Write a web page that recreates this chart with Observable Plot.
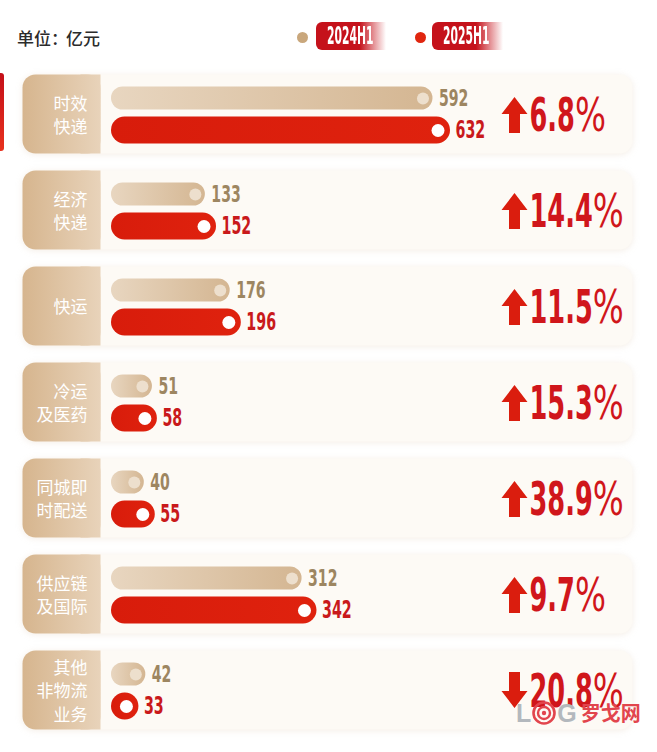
<!DOCTYPE html>
<html>
<head>
<meta charset="utf-8">
<script src="https://cdn.jsdelivr.net/npm/d3@7"></script>
<script src="https://cdn.jsdelivr.net/npm/@observablehq/plot@0.6"></script>
<style>
  body { margin: 0; background: #fff; }
  #wrap { position: relative; width: 657px; height: 752px; overflow: hidden; font-family: "Noto Sans CJK SC", sans-serif; }
  #chart { position: absolute; left: 0; top: 0; }
  #chart svg { display: block; }
  .unit { position: absolute; left: 17px; top: 25px; font-size: 17px; color: #2b2b2b; font-weight: 500; }
  .unit .colon { margin-right: -2px; }
  .ldot { position: absolute; width: 11px; height: 11px; border-radius: 50%; }
  .lbox { position: absolute; top: 22px; height: 28px; border-radius: 6px 0 0 6px; }
  .lbox span { position: absolute; left: 11px; top: 0; line-height: 28px; color: #fff; font-weight: bold; font-size: 25px; white-space: nowrap;
    font-family: "DejaVu Sans Condensed", "DejaVu Sans", sans-serif; transform: scaleX(0.48); transform-origin: left center; }
  .strip { position: absolute; left: 0; top: 73px; width: 4px; height: 78px; background: linear-gradient(#c40f19, #e8321e); border-radius: 0 3px 3px 0; }
  .wm { position: absolute; left: 516px; top: 700px; display: flex; align-items: center; height: 26px; }
  .wm .g { color: #b3b8bd; font-weight: bold; font-size: 25px; font-family: "Liberation Sans", sans-serif; line-height: 26px; }
  .wm .c { color: #e2454d; font-size: 20px; line-height: 26px; margin-left: 4px; font-weight: bold; }
</style>
</head>
<body>
<div id="wrap">
  <div class="unit">单位<span class="colon">：</span>亿元</div>
  <div class="strip"></div>
  <div id="legend"></div>
  <div id="chart"></div>
  <div class="wm">
    <span class="g">L</span>
    <svg width="24" height="24" viewBox="0 0 24 24" style="margin:0 1px">
      <circle cx="12" cy="12" r="10.5" fill="none" stroke="#e2454d" stroke-width="2.6"/>
      <circle cx="12" cy="12" r="6" fill="none" stroke="#e2454d" stroke-width="2.4"/>
      <circle cx="12" cy="12" r="2.2" fill="#e2454d"/>
    </svg>
    <span class="g">G</span>
    <span class="c">罗戈网</span>
  </div>
</div>
<script>
// ---- data ----
const categories = ["时效快递", "经济快递", "快运", "冷运及医药", "同城即时配送", "供应链及国际", "其他非物流业务"];
const categoryLabels = ["时效\n快递", "经济\n快递", "快运", "冷运\n及医药", "同城即\n时配送", "供应链\n及国际", "其他\n非物流\n业务"];
const series = ["2024H1", "2025H1"];
const values2024 = [592, 133, 176, 51, 40, 312, 42];
const values2025 = [632, 152, 196, 58, 55, 342, 33];
const growthPct = [6.8, 14.4, 11.5, 15.3, 38.9, 9.7, -20.8];

// ---- tables built from the arrays ----
const bars2024 = categories.map((c, i) => ({cat: c, series: series[0], value: values2024[i]}));
const bars2025 = categories.map((c, i) => ({cat: c, series: series[1], value: values2025[i]}));
const rows = categories.map((c, i) => ({cat: c, label: categoryLabels[i], growth: growthPct[i]}));

const NUMFONT = '"DejaVu Sans Condensed", "DejaVu Sans", sans-serif';
const TAN_TEXT = "#9d8661";
const RED_TEXT = "#c9191b";
const RED = "#da1d0e";

// ---- legend ----
const legendSpec = [
  {dot: "#c9a77c", dotX: 297, boxX: 316, boxW: 70},
  {dot: "#e0260f", dotX: 415, boxX: 432, boxW: 71}
];
const legend = document.getElementById("legend");
series.forEach((s, i) => {
  const sp = legendSpec[i];
  const d = document.createElement("div");
  d.className = "ldot";
  d.style.left = sp.dotX + "px"; d.style.top = "31.5px"; d.style.background = sp.dot;
  legend.appendChild(d);
  const b = document.createElement("div");
  b.className = "lbox";
  b.style.left = sp.boxX + "px"; b.style.width = sp.boxW + "px";
  b.style.background = "linear-gradient(to right, #c5121b 62%, rgba(197,18,27,0))";
  const t = document.createElement("span");
  t.textContent = s;
  b.appendChild(t);
  legend.appendChild(b);
});

// ---- arrow symbols ----
function arrow(dir) {
  return {
    draw(ctx, size) {
      const u = Math.sqrt(size / Math.PI) / 18;
      const s = dir;
      ctx.moveTo(0, -18 * u * s);
      ctx.lineTo(13 * u, -1 * u * s);
      ctx.lineTo(5.5 * u, -1 * u * s);
      ctx.lineTo(5.5 * u, 18 * u * s);
      ctx.lineTo(-5.5 * u, 18 * u * s);
      ctx.lineTo(-5.5 * u, -1 * u * s);
      ctx.lineTo(-13 * u, -1 * u * s);
      ctx.closePath();
    }
  };
}

const chart = Plot.plot({
  width: 657,
  height: 752,
  marginTop: 73,
  marginBottom: 23,
  marginLeft: 0,
  marginRight: 0,
  x: {type: "pow", exponent: 0.8, domain: [0, 632], range: [106, 450], axis: null},
  y: {domain: series, axis: null, paddingInner: 0, paddingOuter: 0.234},
  fy: {domain: categories, axis: null, paddingInner: 0.1785, paddingOuter: 0},
  style: {background: "transparent", overflow: "visible"},
  marks: [
    // row panels
    Plot.frame({fill: "#fdfaf5", stroke: "none", rx: 13, insetLeft: 22, insetRight: 25,
      imageFilter: "drop-shadow(0 1px 3px rgba(210,185,150,0.25))"}),
    // label boxes
    Plot.frame({fill: "url(#boxGrad)", stroke: "none", rx: 13, insetLeft: 22, insetRight: 557}),
    Plot.frame({fill: "url(#boxGrad)", stroke: "none", insetLeft: 80, insetRight: 557}),
    Plot.text(rows, {fy: "cat", text: "label", frameAnchor: "left", dx: 87, textAnchor: "end",
      fill: "#fff", fontSize: 17, lineHeight: 1.36, fontFamily: '"Noto Sans CJK SC", sans-serif'}),
    // bars
    Plot.barX(bars2024, {x: "value", y: "series", fy: "cat", fill: "url(#barTan)", rx: 11.5,
      insetTop: 4.5, insetBottom: 4.5, insetLeft: 5}),
    Plot.barX(bars2025, {x: "value", y: "series", fy: "cat", fill: "url(#barRed)", rx: 13.5,
      insetTop: 2.5, insetBottom: 2.5, insetLeft: 5}),
    Plot.dot(bars2024, {x: "value", y: "series", fy: "cat", r: 6, fill: "#eddfcd", dx: -10}),
    Plot.dot(bars2025, {x: "value", y: "series", fy: "cat", r: 6.5, fill: "#fff", dx: -12.5}),
    // value labels
    Plot.text(bars2024, {x: "value", y: "series", fy: "cat", text: d => String(d.value), dx: 6,
      textAnchor: "start", fill: TAN_TEXT, fontSize: 23, fontWeight: "bold", fontFamily: NUMFONT}),
    Plot.text(bars2025, {x: "value", y: "series", fy: "cat", text: d => String(d.value), dx: 5,
      textAnchor: "start", fill: RED_TEXT, fontSize: 24, fontWeight: "bold", fontFamily: NUMFONT}),
    // growth
    Plot.dot(rows.filter(d => d.growth >= 0), {fy: "cat", frameAnchor: "left", dx: 514, dy: 1,
      symbol: arrow(1), r: 18, fill: RED, stroke: "none"}),
    Plot.dot(rows.filter(d => d.growth < 0), {fy: "cat", frameAnchor: "left", dx: 514, dy: 0,
      symbol: arrow(-1), r: 18, fill: RED, stroke: "none"}),
    Plot.text(rows, {fy: "cat", frameAnchor: "left", dx: 529, dy: 2,
      text: d => Math.abs(d.growth).toFixed(1) + "%",
      textAnchor: "start", fill: "#d0161b", fontSize: 46, fontWeight: "bold", fontFamily: NUMFONT})
  ]
});

d3.select(chart).insert("defs", ":first-child").html(`
  <linearGradient id="barTan" x1="0" x2="1" y1="0" y2="0">
    <stop offset="0" stop-color="#e8d6c0"/>
    <stop offset="1" stop-color="#d4b692"/>
  </linearGradient>
  <linearGradient id="barRed" x1="0" x2="1" y1="0" y2="0">
    <stop offset="0" stop-color="#d81c0b"/>
    <stop offset="1" stop-color="#df220e"/>
  </linearGradient>
  <linearGradient id="boxGrad" gradientUnits="userSpaceOnUse" x1="22" x2="100" y1="0" y2="0">
    <stop offset="0" stop-color="#d6b58e"/>
    <stop offset="1" stop-color="#e8d3ba"/>
  </linearGradient>
`);

// horizontally condense the number texts (the reference uses a condensed display face)
function squeeze(size, s, splitPercent) {
  d3.select(chart).selectAll("g")
    .filter(function() { return +this.getAttribute("font-size") === size; })
    .selectAll("text")
    .each(function() {
      if (this.__squeezed) return;
      this.__squeezed = true;
      let t = this.getAttribute("transform") || "";
      const x = this.getAttribute("x");
      if (x !== null && /^-?[\d.]+$/.test(x.trim())) {
        t += ` translate(${x},0)`;
        this.removeAttribute("x");
      }
      this.setAttribute("transform", (t + ` scale(${s},1)`).trim());
      if (splitPercent) {
        const txt = this.textContent;
        if (txt.endsWith("%")) {
          this.textContent = txt.slice(0, -1);
          const ts = document.createElementNS("http://www.w3.org/2000/svg", "tspan");
          ts.setAttribute("font-weight", "normal");
          ts.setAttribute("dx", "0");
          ts.setAttribute("textLength", String(Math.round(31 / s)));
          ts.setAttribute("lengthAdjust", "spacingAndGlyphs");
          ts.textContent = "%";
          this.appendChild(ts);
        }
      }
    });
}
squeeze(23, 0.68, false);
squeeze(24, 0.66, false);
squeeze(46, 0.62, true);

document.getElementById("chart").appendChild(chart);
</script>
</body>
</html>
